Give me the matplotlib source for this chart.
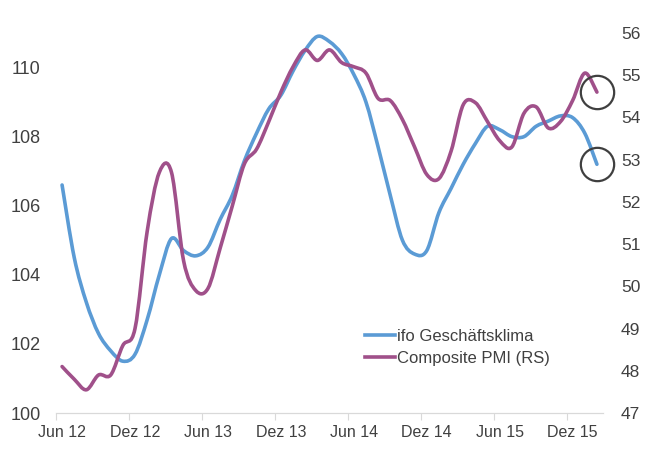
import numpy as np
import matplotlib.pyplot as plt
from matplotlib.path import Path
from matplotlib.patches import PathPatch
from matplotlib.lines import Line2D

plt.rcParams['font.family'] = ['Liberation Sans', 'DejaVu Sans']

# monthly data, Jun 2012 .. Feb 2016
ifo = [106.6, 104.5, 103.2, 102.3, 101.8, 101.5, 101.7, 102.7, 104.0, 105.05,
       104.7, 104.55, 104.8, 105.6, 106.3, 107.3, 108.1, 108.8, 109.2, 109.9,
       110.5, 110.9, 110.75, 110.4, 109.8, 109.0, 107.7, 106.3, 105.0, 104.6,
       104.7, 105.8, 106.5, 107.2, 107.8, 108.3, 108.2, 108.0, 108.0, 108.3,
       108.45, 108.6, 108.55, 108.1, 107.2]
pmi = [48.1, 47.8, 47.55, 47.9, 47.9, 48.6, 49.0, 51.3, 52.7, 52.7,
       50.6, 49.9, 49.95, 50.9, 51.9, 52.9, 53.25, 53.9, 54.6, 55.2,
       55.6, 55.35, 55.6, 55.3, 55.2, 55.05, 54.45, 54.4, 53.95, 53.3,
       52.65, 52.55, 53.2, 54.3, 54.35, 53.9, 53.45, 53.3, 54.1, 54.25,
       53.75, 53.9, 54.4, 55.05, 54.6]
tick_labels = ["Jun 12", "Dez 12", "Jun 13", "Dez 13",
               "Jun 14", "Dez 14", "Jun 15", "Dez 15"]
series_names = ["ifo Geschäftsklima", "Composite PMI (RS)"]

BLUE = "#5b9bd5"
PURPLE = "#a0508a"
TXT = "#404040"


def smooth_path(y):
    # Excel-like smoothed line: Catmull-Rom segments as cubic Bezier curves
    pts = np.column_stack([np.arange(len(y)), y]).astype(float)
    ext = np.vstack([pts[0], pts, pts[-1]])
    verts, codes = [pts[0]], [Path.MOVETO]
    for i in range(len(pts) - 1):
        p0, p1, p2, p3 = ext[i], ext[i + 1], ext[i + 2], ext[i + 3]
        verts += [p1 + (p2 - p0) / 6, p2 - (p3 - p1) / 6, p2]
        codes += [Path.CURVE4] * 3
    return Path(verts, codes)


fig = plt.figure(figsize=(6.5, 4.5), dpi=100)
ax = fig.add_axes([56 / 650, 37 / 450, 547 / 650, 380 / 450])
ax2 = ax.twinx()

ax.add_patch(PathPatch(smooth_path(ifo), fill=False, edgecolor=BLUE,
                       lw=2.6, capstyle='round', joinstyle='round'))
ax2.add_patch(PathPatch(smooth_path(pmi), fill=False, edgecolor=PURPLE,
                        lw=2.6, capstyle='round', joinstyle='round'))

# circles around the latest values
n = len(ifo) - 1
ax.plot([n], [ifo[-1]], marker='o', ms=24, mfc='none', mec='#3f3f3f',
        mew=1.6, clip_on=False)
ax2.plot([n], [pmi[-1]], marker='o', ms=24, mfc='none', mec='#3f3f3f',
         mew=1.6, clip_on=False)

ax.set_xlim(-0.5, len(ifo) - 0.5)
ax.set_ylim(100, 111)
ax2.set_ylim(47, 56)
ax.set_yticks(np.arange(100, 111, 2))
ax2.set_yticks(np.arange(47, 57, 1))

label_pos = np.arange(0, len(ifo), 6)
ax.set_xticks(label_pos - 0.5)
ax.set_xticklabels([])
ax.set_xticks(label_pos, minor=True)
ax.set_xticklabels(tick_labels, minor=True)
ax.tick_params(axis='x', which='major', length=5, color='#d9d9d9')
ax.tick_params(axis='x', which='minor', length=0, pad=8.5,
               labelsize=11.5, labelcolor=TXT)
ax.tick_params(axis='y', length=0, pad=11, labelsize=13, labelcolor=TXT)
ax2.tick_params(axis='y', length=0, pad=13, labelsize=12.5, labelcolor=TXT)

for a in (ax, ax2):
    for s in ("top", "left", "right"):
        a.spines[s].set_visible(False)
    a.spines["bottom"].set_color("#d9d9d9")

handles = [Line2D([], [], color=BLUE, lw=2.6),
           Line2D([], [], color=PURPLE, lw=2.6)]
ax2.legend(handles, series_names, loc='center left',
           bbox_to_anchor=(365 / 650, 1 - 347.5 / 450),
           bbox_transform=fig.transFigure, frameon=False, fontsize=12,
           handlelength=1.8, handletextpad=0.1, borderpad=0,
           borderaxespad=0, labelspacing=0.45, labelcolor=TXT)

fig.savefig("out.png", dpi=100)
